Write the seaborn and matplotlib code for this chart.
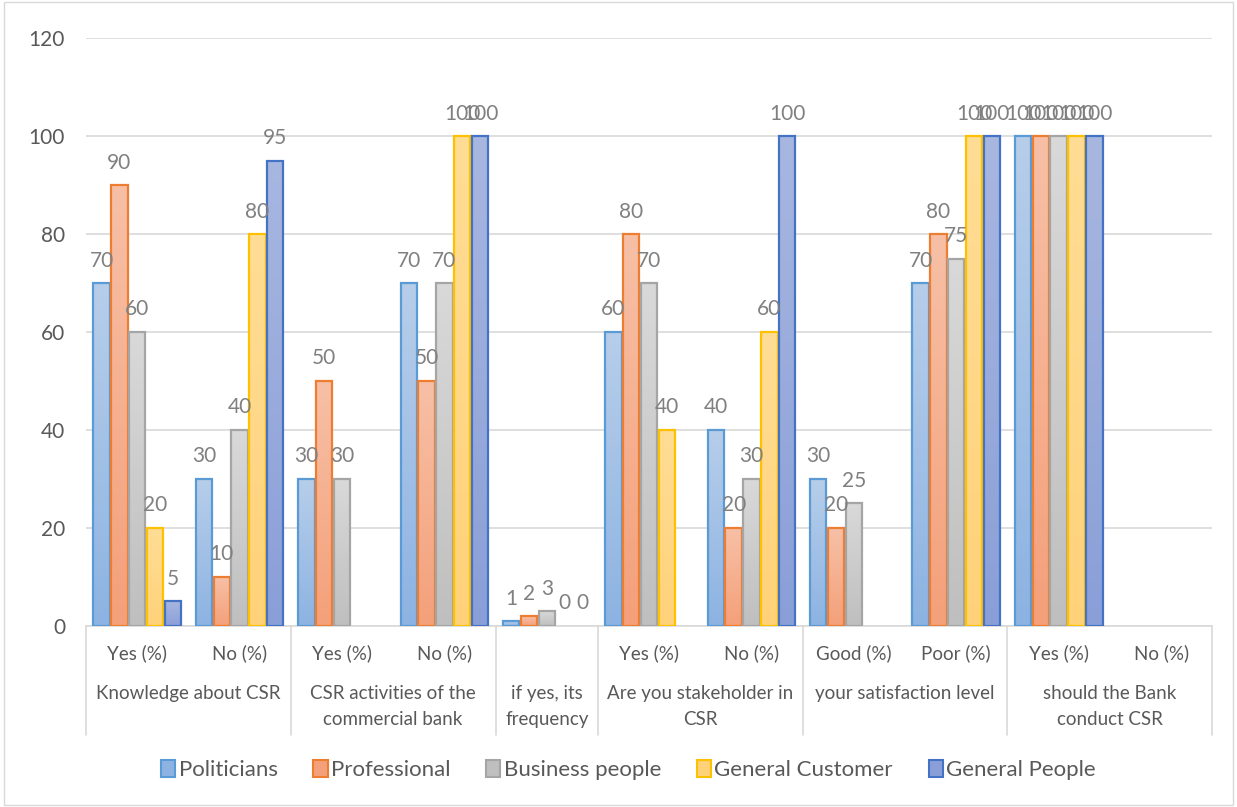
import numpy as np
import pandas as pd
import matplotlib
matplotlib.use('Agg')
import matplotlib.pyplot as plt
import matplotlib.transforms as mtransforms
from matplotlib.colors import LinearSegmentedColormap
from matplotlib.patches import Patch, Rectangle
import seaborn as sns

nan = np.nan

# question groups and their answer options (multi-level category axis)
groups = ['Knowledge about CSR', 'CSR activities of the\ncommercial bank',
          'if yes, its\nfrequency', 'Are you stakeholder in\nCSR',
          'your satisfaction level', 'should the Bank\nconduct CSR']
options = [['Yes (%)', 'No (%)'], ['Yes (%)', 'No (%)'], [''],
           ['Yes (%)', 'No (%)'], ['Good (%)', 'Poor (%)'], ['Yes (%)', 'No (%)']]

series = ['Politicians', 'Professional', 'Business people',
          'General Customer', 'General People']

politicians = [70, 30, 30, 70, 1, 60, 40, 30, 70, 100, nan]
professional = [90, 10, 50, 50, 2, 80, 20, 20, 80, 100, nan]
business_people = [60, 40, 30, 70, 3, 70, 30, 25, 75, 100, nan]
general_customer = [20, 80, nan, 100, 0, 40, 60, nan, 100, 100, nan]
general_people = [5, 95, nan, 100, 0, nan, 100, nan, 100, 100, nan]

edge_colors = ['#5B9BD5', '#ED7D31', '#A5A5A5', '#FFC000', '#4472C4']
fill_top = ['#B7CEEA', '#F7C0A6', '#D9D9D9', '#FFDD95', '#A8B7E0']
fill_bottom = ['#8DB3E2', '#F4A07A', '#BFBFBF', '#FFD27A', '#8A9FD8']

# build long table
keys, sub_labels = [], []
for g, opts in zip(groups, options):
    for o in opts:
        keys.append(f'{g}|{o}')
        sub_labels.append(o)

values = [politicians, professional, business_people, general_customer, general_people]
rows = []
for name, vals in zip(series, values):
    for k, v in zip(keys, vals):
        rows.append({'question': k, 'group': name, 'value': v})
df = pd.DataFrame(rows)

sns.set_style('white')
plt.rcParams['font.family'] = ['Lato', 'DejaVu Sans']

fig = plt.figure(figsize=(12.37, 8.07), dpi=100)
ax = fig.add_axes([0.0695, 0.2243, 0.9105, 0.7286])

sns.barplot(data=df.dropna(), x='question', y='value', hue='group',
            order=keys, hue_order=series, palette=edge_colors,
            width=0.87, gap=0.08, errorbar=None, legend=False, ax=ax)

# gradient fills with coloured outlines
grad = np.linspace(0, 1, 128).reshape(-1, 1)
for i, cont in enumerate(ax.containers):
    cmap = LinearSegmentedColormap.from_list(f'g{i}', [fill_bottom[i], fill_top[i]])
    for bar in cont:
        x0, y0 = bar.get_x(), bar.get_y()
        w, h = bar.get_width(), bar.get_height()
        bar.set_facecolor('none')
        bar.set_edgecolor(edge_colors[i])
        bar.set_linewidth(1.6 if h > 0 else 0)
        bar.set_zorder(3)
        if h > 0:
            ax.imshow(grad, extent=[x0, x0 + w, y0, y0 + h], origin='lower',
                      cmap=cmap, aspect='auto', zorder=2.5, interpolation='bilinear')
    labels = ['' if np.isnan(v) else f'{v:g}' for v in cont.datavalues]
    ax.bar_label(cont, labels=labels, padding=9, color='#808080', fontsize=15)

ax.set_ylim(0, 120)
ax.set_xlim(-0.5, len(keys) - 0.5)

ax.set_yticks(range(0, 121, 20))
ax.yaxis.grid(True, color='#D9D9D9', linewidth=1.2)
ax.set_axisbelow(True)
for s in ['left', 'right', 'top']:
    ax.spines[s].set_visible(False)
ax.spines['bottom'].set_color('#D9D9D9')
ax.spines['bottom'].set_linewidth(1.2)
ax.tick_params(axis='y', length=0, pad=15, labelsize=15, labelcolor='#595959')
ax.set_xticks(range(len(keys)))
ax.set_xticklabels(sub_labels)
ax.tick_params(axis='x', length=0, pad=13, labelsize=13.5, labelcolor='#595959')
ax.set_xlabel('')
ax.set_ylabel('')

# group labels and separators
trans = mtransforms.blended_transform_factory(ax.transData, ax.transAxes)
start = -0.5
bounds = [start]
for g, opts in zip(groups, options):
    end = start + len(opts)
    ax.text((start + end) / 2, -0.101, g, transform=trans, ha='center', va='top',
            fontsize=13.5, color='#595959', linespacing=1.65)
    bounds.append(end)
    start = end
for b in bounds:
    ax.plot([b, b], [0, -0.185], transform=trans, color='#D9D9D9',
            linewidth=1.2, clip_on=False)

handles = [Patch(facecolor=f, edgecolor=e, linewidth=1.5)
           for f, e in zip(fill_bottom, edge_colors)]
fig.legend(handles, series, loc='center', bbox_to_anchor=(0.508, 0.046), ncol=5,
           frameon=False, fontsize=16, labelcolor='#595959', handlelength=0.65,
           handleheight=0.8, handletextpad=0.15, columnspacing=1.6)

fig.patches.append(Rectangle((0.003, 0.003), 0.994, 0.994, transform=fig.transFigure,
                             fill=False, edgecolor='#D9D9D9', linewidth=1))

fig.savefig('out.png', dpi=100)
